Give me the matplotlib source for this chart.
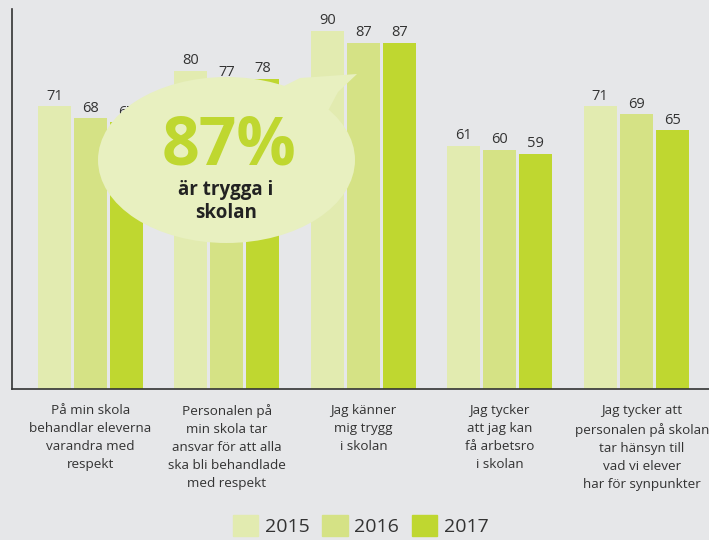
import matplotlib.pyplot as plt
import numpy as np
from matplotlib.patches import Ellipse, Polygon, Rectangle

categories = [
    'På min skola\nbehandlar eleverna\nvarandra med\nrespekt',
    'Personalen på\nmin skola tar\nansvar för att alla\nska bli behandlade\nmed respekt',
    'Jag känner\nmig trygg\ni skolan',
    'Jag tycker\natt jag kan\nfå arbetsro\ni skolan',
    'Jag tycker att\npersonalen på skolan\ntar hänsyn till\nvad vi elever\nhar för synpunkter',
]
years = ['2015', '2016', '2017']
v2015 = [71, 80, 90, 61, 71]
v2016 = [68, 77, 87, 60, 69]
v2017 = [67, 78, 87, 59, 65]

colors = ['#e2ebb0', '#d5e285', '#bfd730']
bg = '#e6e7e9'
text_col = '#333333'

plt.rcParams['font.family'] = ['Open Sans', 'DejaVu Sans']

W, H = 709, 540
fig = plt.figure(figsize=(W / 100, H / 100), dpi=100, facecolor=bg)
ax = fig.add_axes([12 / W, 151 / H, 697 / W, 380 / H])
ax.set_facecolor(bg)

x = np.arange(len(categories))
step = 0.264
width = 0.242
for i, (vals, c) in enumerate(zip([v2015, v2016, v2017], colors)):
    pos = x + (i - 1) * step
    ax.bar(pos, vals, width=width, color=c, label=years[i], zorder=2)
    for px_, v in zip(pos, vals):
        ax.annotate(str(v), (px_, v), xytext=(0, 2), textcoords='offset points',
                    ha='center', va='bottom', fontsize=10.5, color=text_col)

ax.set_xlim(-0.576, 4.534)
ax.set_ylim(0, 95.5)
ax.set_xticks([])
ax.set_yticks([])
for s in ['top', 'right']:
    ax.spines[s].set_visible(False)
for s in ['left', 'bottom']:
    ax.spines[s].set_color('#333333')
    ax.spines[s].set_linewidth(1.2)

# category labels under groups
for i, lab in enumerate(categories):
    dx = 4 if i == len(categories) - 1 else 0
    ax.annotate(lab, (x[i], 0), xytext=(dx, -11), textcoords='offset points',
                ha='center', va='top', fontsize=9.7, color=text_col,
                linespacing=1.5, annotation_clip=False)

# legend
handles = [Rectangle((0, 0), 1, 1, color=c) for c in colors]
fig.legend(handles, years, loc='lower center', bbox_to_anchor=(0.509, -0.025),
           ncol=3, frameon=False, fontsize=14, handlelength=1.3, handleheight=1.3,
           handletextpad=0.35, columnspacing=0.65, labelcolor=text_col)

# speech bubble
def fp(px, py):
    return (px / W, 1 - py / H)

bubble_col = '#e8f0c0'
fig.add_artist(Ellipse(fp(226.5, 160), 257 / W, 166 / H, transform=fig.transFigure,
                       facecolor=bubble_col, edgecolor='none', zorder=5))
tail = [fp(280, 88), fp(300, 78), fp(357, 74), fp(338, 92), fp(322, 122), fp(295, 120)]
fig.add_artist(Polygon(tail, closed=True, transform=fig.transFigure,
                       facecolor=bubble_col, edgecolor='none', zorder=5))
fig.text(*fp(229, 147), '87%', ha='center', va='center', fontsize=47.5,
         fontweight='bold', color='#bfd730', zorder=6)
fig.text(*fp(226, 190), 'är trygga i', ha='center', va='center', fontsize=13.5,
         fontweight='bold', color='#222222', zorder=6)
fig.text(*fp(226, 213), 'skolan', ha='center', va='center', fontsize=13.5,
         fontweight='bold', color='#222222', zorder=6)

fig.savefig('out.png', dpi=100, facecolor=bg)
